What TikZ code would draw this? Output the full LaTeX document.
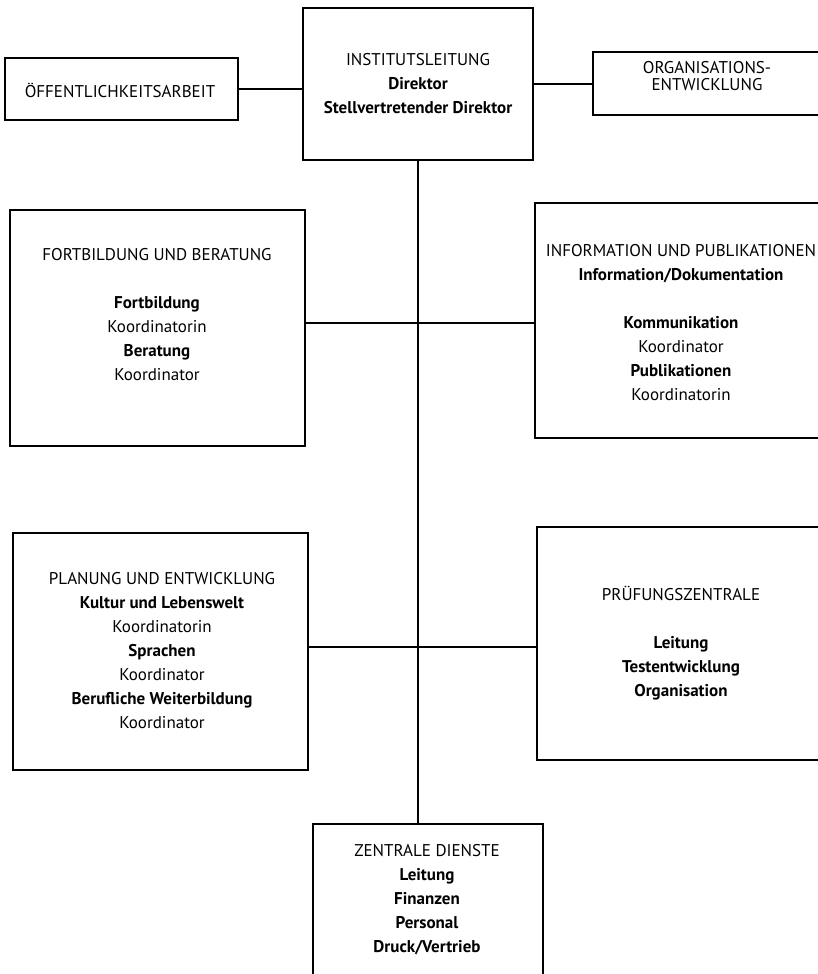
\documentclass[tikz,border=0pt]{standalone}
\usepackage{fontspec}
\setmainfont{PT Sans}
\begin{document}
\begin{tikzpicture}[x=1pt,y=-1pt,
  box/.style={draw,line width=1.1pt,inner sep=0pt,anchor=center},
  txt/.style={align=center,inner sep=0pt,font=\fontsize{17pt}{24pt}\selectfont},
  conn/.style={line width=1.1pt}]
\useasboundingbox (0,0) rectangle (818,974);
\clip (0,0) rectangle (818,974);
% boxes
\node[box,minimum width=233pt,minimum height=62pt] (oeff) at (121.5,89) {};
\node[box,minimum width=230pt,minimum height=152pt] (inst) at (418,84) {};
\node[box,minimum width=242pt,minimum height=63pt] (org) at (714,83.5) {};
\node[box,minimum width=295pt,minimum height=236pt] (fort) at (157.5,328) {};
\node[box,minimum width=300pt,minimum height=235pt] (info) at (685,320.5) {};
\node[box,minimum width=295pt,minimum height=237pt] (plan) at (160.5,651.5) {};
\node[box,minimum width=298pt,minimum height=233pt] (pruef) at (686,643.5) {};
\node[box,minimum width=230pt,minimum height=176pt] (zent) at (428,912) {};
% texts
\node[txt] (toeff) at (120,90) {ÖFFENTLICHKEITSARBEIT};
\node[txt] (tinst) at (418,84) {INSTITUTSLEITUNG\\\textbf{Direktor}\\\textbf{Stellvertretender Direktor}};
\node[txt,font=\fontsize{17pt}{16.5pt}\selectfont] (torg) at (707,76) {ORGANISATIONS-\\ENTWICKLUNG};
\node[txt] (tfort) at (157,315) {FORTBILDUNG UND BERATUNG\\[24pt]\textbf{Fortbildung}\\Koordinatorin\\\textbf{Beratung}\\Koordinator};
\node[txt] (tinfo) at (681,323) {INFORMATION UND PUBLIKATIONEN\\\textbf{Information/Dokumentation}\\[24pt]\textbf{Kommunikation}\\Koordinator\\\textbf{Publikationen}\\Koordinatorin};
\node[txt] (tplan) at (162,651) {PLANUNG UND ENTWICKLUNG\\\textbf{Kultur und Lebenswelt}\\Koordinatorin\\\textbf{Sprachen}\\Koordinator\\\textbf{Berufliche Weiterbildung}\\Koordinator};
\node[txt] (tpruef) at (681,643) {PRÜFUNGSZENTRALE\\[24pt]\textbf{Leitung}\\\textbf{Testentwicklung}\\\textbf{Organisation}};
\node[txt] (tzent) at (427,900) {ZENTRALE DIENSTE\\\textbf{Leitung}\\\textbf{Finanzen}\\\textbf{Personal}\\\textbf{Druck/Vertrieb}};
% junctions
\coordinate (j1) at (420,323);
\coordinate (j2) at (421,647);
% connectors
\draw[conn] (oeff.east) -- (oeff.east -| inst.west);
\draw[conn] (inst.east) -- (inst.east -| org.west);
\draw[conn] (inst.south) -- (inst.south |- zent.north);
\draw[conn] (fort.east |- j1) -- (info.west |- j1);
\draw[conn] (plan.east |- j2) -- (pruef.west |- j2);
\end{tikzpicture}
\end{document}
